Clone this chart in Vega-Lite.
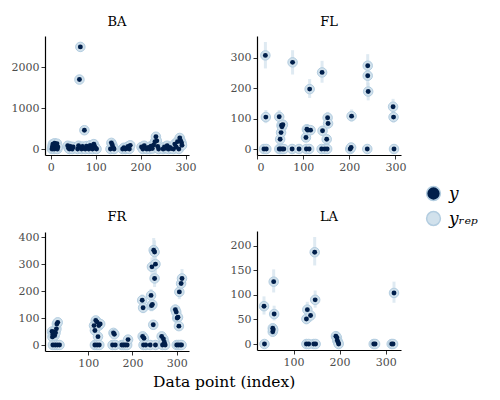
{
  "$schema": "https://vega.github.io/schema/vega-lite/v6.json",
  "background": "white",
  "padding": {"left": 11, "top": 16, "right": 5, "bottom": 5},
  "title": {"text": "Data point (index)", "orient": "bottom", "anchor": "start", "dx": 108, "frame": "group", "font": "DejaVu Serif", "fontSize": 15.5, "fontWeight": "normal", "color": "black", "offset": 7},
  "data": {"values": [
    {"g":"BA","x":3,"y":0,"lo":0,"hi":0},{"g":"BA","x":4,"y":60,"lo":50,"hi":72},{"g":"BA","x":5,"y":120,"lo":100,"hi":140},{"g":"BA","x":6,"y":20,"lo":15,"hi":25},{"g":"BA","x":7,"y":90,"lo":76,"hi":105},{"g":"BA","x":8,"y":0,"lo":0,"hi":0},{"g":"BA","x":9,"y":140,"lo":118,"hi":162},{"g":"BA","x":10,"y":40,"lo":33,"hi":48},{"g":"BA","x":11,"y":100,"lo":85,"hi":116},{"g":"BA","x":12,"y":10,"lo":7,"hi":13},{"g":"BA","x":13,"y":70,"lo":59,"hi":82},{"g":"BA","x":14,"y":130,"lo":110,"hi":150},{"g":"BA","x":15,"y":0,"lo":0,"hi":0},{"g":"BA","x":16,"y":50,"lo":42,"hi":58},
    {"g":"BA","x":38,"y":80,"lo":68,"hi":93},{"g":"BA","x":40,"y":20,"lo":15,"hi":25},{"g":"BA","x":42,"y":0,"lo":0,"hi":0},{"g":"BA","x":44,"y":60,"lo":50,"hi":70},{"g":"BA","x":46,"y":30,"lo":24,"hi":36},{"g":"BA","x":48,"y":0,"lo":0,"hi":0},{"g":"BA","x":50,"y":50,"lo":42,"hi":58},
    {"g":"BA","x":60,"y":0,"lo":0,"hi":0},{"g":"BA","x":62,"y":80,"lo":68,"hi":93},{"g":"BA","x":64,"y":1700,"lo":1600,"hi":1800},{"g":"BA","x":66,"y":2500,"lo":2380,"hi":2620},{"g":"BA","x":67,"y":40,"lo":33,"hi":48},{"g":"BA","x":69,"y":0,"lo":0,"hi":0},{"g":"BA","x":71,"y":60,"lo":50,"hi":70},{"g":"BA","x":73,"y":20,"lo":15,"hi":25},{"g":"BA","x":75,"y":460,"lo":420,"hi":500},{"g":"BA","x":77,"y":0,"lo":0,"hi":0},{"g":"BA","x":80,"y":70,"lo":59,"hi":82},{"g":"BA","x":83,"y":30,"lo":24,"hi":36},{"g":"BA","x":85,"y":0,"lo":0,"hi":0},{"g":"BA","x":88,"y":90,"lo":76,"hi":105},{"g":"BA","x":90,"y":40,"lo":33,"hi":48},{"g":"BA","x":93,"y":0,"lo":0,"hi":0},{"g":"BA","x":96,"y":120,"lo":100,"hi":140},{"g":"BA","x":98,"y":60,"lo":50,"hi":70},{"g":"BA","x":100,"y":20,"lo":15,"hi":25},{"g":"BA","x":102,"y":0,"lo":0,"hi":0},
    {"g":"BA","x":133,"y":0,"lo":0,"hi":0},{"g":"BA","x":135,"y":150,"lo":127,"hi":173},{"g":"BA","x":137,"y":100,"lo":85,"hi":116},{"g":"BA","x":139,"y":40,"lo":33,"hi":48},{"g":"BA","x":141,"y":0,"lo":0,"hi":0},
    {"g":"BA","x":160,"y":0,"lo":0,"hi":0},{"g":"BA","x":163,"y":30,"lo":24,"hi":36},{"g":"BA","x":166,"y":0,"lo":0,"hi":0},{"g":"BA","x":169,"y":10,"lo":7,"hi":13},{"g":"BA","x":172,"y":60,"lo":50,"hi":70},{"g":"BA","x":175,"y":0,"lo":0,"hi":0},{"g":"BA","x":177,"y":90,"lo":76,"hi":105},
    {"g":"BA","x":202,"y":50,"lo":42,"hi":58},{"g":"BA","x":205,"y":0,"lo":0,"hi":0},{"g":"BA","x":208,"y":80,"lo":68,"hi":93},{"g":"BA","x":211,"y":20,"lo":15,"hi":25},{"g":"BA","x":214,"y":0,"lo":0,"hi":0},{"g":"BA","x":217,"y":40,"lo":33,"hi":48},{"g":"BA","x":220,"y":0,"lo":0,"hi":0},{"g":"BA","x":223,"y":70,"lo":59,"hi":82},{"g":"BA","x":226,"y":10,"lo":7,"hi":13},{"g":"BA","x":229,"y":100,"lo":85,"hi":116},{"g":"BA","x":232,"y":180,"lo":155,"hi":208},{"g":"BA","x":234,"y":300,"lo":265,"hi":340},{"g":"BA","x":236,"y":200,"lo":172,"hi":230},{"g":"BA","x":238,"y":60,"lo":50,"hi":70},{"g":"BA","x":240,"y":0,"lo":0,"hi":0},
    {"g":"BA","x":250,"y":0,"lo":0,"hi":0},{"g":"BA","x":253,"y":50,"lo":42,"hi":58},{"g":"BA","x":256,"y":20,"lo":15,"hi":25},{"g":"BA","x":259,"y":80,"lo":68,"hi":93},{"g":"BA","x":262,"y":0,"lo":0,"hi":0},{"g":"BA","x":265,"y":40,"lo":33,"hi":48},{"g":"BA","x":268,"y":10,"lo":7,"hi":13},
    {"g":"BA","x":273,"y":0,"lo":0,"hi":0},{"g":"BA","x":276,"y":120,"lo":100,"hi":140},{"g":"BA","x":279,"y":50,"lo":42,"hi":58},{"g":"BA","x":282,"y":180,"lo":155,"hi":208},{"g":"BA","x":285,"y":0,"lo":0,"hi":0},{"g":"BA","x":287,"y":270,"lo":238,"hi":305},{"g":"BA","x":289,"y":200,"lo":172,"hi":230},{"g":"BA","x":291,"y":150,"lo":127,"hi":173},{"g":"BA","x":292,"y":90,"lo":76,"hi":105},

    {"g":"FL","x":15,"y":0,"lo":0,"hi":0},{"g":"FL","x":18,"y":308,"lo":265,"hi":352},{"g":"FL","x":19,"y":105,"lo":85,"hi":128},{"g":"FL","x":20,"y":0,"lo":0,"hi":0},
    {"g":"FL","x":48,"y":0,"lo":0,"hi":0},{"g":"FL","x":48,"y":106,"lo":88,"hi":128},{"g":"FL","x":50,"y":32,"lo":25,"hi":40},{"g":"FL","x":51,"y":0,"lo":0,"hi":0},{"g":"FL","x":52,"y":54,"lo":44,"hi":65},{"g":"FL","x":53,"y":78,"lo":64,"hi":93},{"g":"FL","x":54,"y":73,"lo":60,"hi":88},{"g":"FL","x":55,"y":0,"lo":0,"hi":0},{"g":"FL","x":56,"y":80,"lo":66,"hi":96},{"g":"FL","x":58,"y":0,"lo":0,"hi":0},
    {"g":"FL","x":76,"y":0,"lo":0,"hi":0},{"g":"FL","x":77,"y":285,"lo":245,"hi":325},{"g":"FL","x":91,"y":0,"lo":0,"hi":0},
    {"g":"FL","x":106,"y":38,"lo":30,"hi":46},{"g":"FL","x":107,"y":0,"lo":0,"hi":0},{"g":"FL","x":108,"y":65,"lo":53,"hi":78},{"g":"FL","x":110,"y":62,"lo":51,"hi":75},{"g":"FL","x":113,"y":0,"lo":0,"hi":0},{"g":"FL","x":114,"y":197,"lo":168,"hi":230},{"g":"FL","x":116,"y":62,"lo":51,"hi":75},
    {"g":"FL","x":140,"y":0,"lo":0,"hi":0},{"g":"FL","x":141,"y":252,"lo":218,"hi":290},{"g":"FL","x":142,"y":60,"lo":49,"hi":72},{"g":"FL","x":147,"y":0,"lo":0,"hi":0},{"g":"FL","x":151,"y":32,"lo":25,"hi":40},{"g":"FL","x":152,"y":0,"lo":0,"hi":0},{"g":"FL","x":153,"y":103,"lo":86,"hi":122},{"g":"FL","x":154,"y":84,"lo":70,"hi":100},
    {"g":"FL","x":202,"y":0,"lo":0,"hi":0},{"g":"FL","x":204,"y":5,"lo":2,"hi":9},{"g":"FL","x":205,"y":108,"lo":90,"hi":130},
    {"g":"FL","x":239,"y":0,"lo":0,"hi":0},{"g":"FL","x":240,"y":274,"lo":238,"hi":312},{"g":"FL","x":240,"y":241,"lo":208,"hi":276},{"g":"FL","x":241,"y":189,"lo":160,"hi":218},
    {"g":"FL","x":295,"y":139,"lo":116,"hi":165},{"g":"FL","x":296,"y":105,"lo":87,"hi":126},{"g":"FL","x":297,"y":0,"lo":0,"hi":0},

    {"g":"FR","x":18,"y":50,"lo":41,"hi":60},{"g":"FR","x":19,"y":30,"lo":24,"hi":37},{"g":"FR","x":20,"y":40,"lo":33,"hi":48},{"g":"FR","x":22,"y":48,"lo":39,"hi":57},{"g":"FR","x":24,"y":35,"lo":28,"hi":42},{"g":"FR","x":26,"y":45,"lo":37,"hi":54},{"g":"FR","x":28,"y":60,"lo":49,"hi":71},{"g":"FR","x":29,"y":78,"lo":64,"hi":93},{"g":"FR","x":31,"y":84,"lo":69,"hi":100},{"g":"FR","x":20,"y":0,"lo":0,"hi":0},{"g":"FR","x":25,"y":0,"lo":0,"hi":0},{"g":"FR","x":30,"y":0,"lo":0,"hi":0},{"g":"FR","x":35,"y":0,"lo":0,"hi":0},
    {"g":"FR","x":113,"y":72,"lo":59,"hi":86},{"g":"FR","x":115,"y":54,"lo":44,"hi":65},{"g":"FR","x":117,"y":91,"lo":75,"hi":108},{"g":"FR","x":120,"y":85,"lo":70,"hi":101},{"g":"FR","x":122,"y":31,"lo":25,"hi":38},{"g":"FR","x":124,"y":72,"lo":59,"hi":86},{"g":"FR","x":127,"y":78,"lo":64,"hi":93},{"g":"FR","x":115,"y":0,"lo":0,"hi":0},{"g":"FR","x":120,"y":0,"lo":0,"hi":0},{"g":"FR","x":125,"y":0,"lo":0,"hi":0},
    {"g":"FR","x":155,"y":0,"lo":0,"hi":0},{"g":"FR","x":157,"y":45,"lo":37,"hi":54},{"g":"FR","x":159,"y":40,"lo":33,"hi":48},{"g":"FR","x":161,"y":0,"lo":0,"hi":0},
    {"g":"FR","x":176,"y":0,"lo":0,"hi":0},{"g":"FR","x":180,"y":0,"lo":0,"hi":0},{"g":"FR","x":184,"y":0,"lo":0,"hi":0},{"g":"FR","x":188,"y":0,"lo":0,"hi":0},{"g":"FR","x":190,"y":20,"lo":15,"hi":25},
    {"g":"FR","x":222,"y":166,"lo":143,"hi":188},{"g":"FR","x":224,"y":138,"lo":118,"hi":158},{"g":"FR","x":223,"y":32,"lo":25,"hi":40},{"g":"FR","x":226,"y":25,"lo":20,"hi":31},{"g":"FR","x":225,"y":0,"lo":0,"hi":0},{"g":"FR","x":230,"y":0,"lo":0,"hi":0},
    {"g":"FR","x":240,"y":0,"lo":0,"hi":0},{"g":"FR","x":242,"y":184,"lo":158,"hi":208},{"g":"FR","x":243,"y":146,"lo":125,"hi":167},{"g":"FR","x":245,"y":150,"lo":129,"hi":172},{"g":"FR","x":244,"y":290,"lo":255,"hi":325},{"g":"FR","x":248,"y":352,"lo":310,"hi":397},{"g":"FR","x":250,"y":345,"lo":303,"hi":388},{"g":"FR","x":252,"y":300,"lo":264,"hi":336},{"g":"FR","x":250,"y":247,"lo":215,"hi":280},{"g":"FR","x":247,"y":75,"lo":62,"hi":89},{"g":"FR","x":252,"y":0,"lo":0,"hi":0},
    {"g":"FR","x":266,"y":32,"lo":25,"hi":40},{"g":"FR","x":268,"y":0,"lo":0,"hi":0},{"g":"FR","x":270,"y":22,"lo":17,"hi":27},{"g":"FR","x":272,"y":10,"lo":7,"hi":13},{"g":"FR","x":274,"y":0,"lo":0,"hi":0},
    {"g":"FR","x":297,"y":131,"lo":112,"hi":151},{"g":"FR","x":299,"y":122,"lo":104,"hi":141},{"g":"FR","x":301,"y":100,"lo":84,"hi":117},{"g":"FR","x":303,"y":103,"lo":87,"hi":120},{"g":"FR","x":305,"y":70,"lo":58,"hi":83},{"g":"FR","x":306,"y":197,"lo":170,"hi":224},{"g":"FR","x":310,"y":228,"lo":198,"hi":259},{"g":"FR","x":312,"y":247,"lo":215,"hi":282},{"g":"FR","x":300,"y":0,"lo":0,"hi":0},{"g":"FR","x":304,"y":0,"lo":0,"hi":0},{"g":"FR","x":308,"y":0,"lo":0,"hi":0},{"g":"FR","x":311,"y":0,"lo":0,"hi":0},

    {"g":"LA","x":36,"y":77,"lo":60,"hi":97},{"g":"LA","x":37,"y":0,"lo":0,"hi":0},{"g":"LA","x":55,"y":32,"lo":25,"hi":40},{"g":"LA","x":55,"y":25,"lo":19,"hi":31},{"g":"LA","x":56,"y":29,"lo":23,"hi":36},{"g":"LA","x":57,"y":127,"lo":105,"hi":152},{"g":"LA","x":58,"y":61,"lo":48,"hi":78},
    {"g":"LA","x":128,"y":51,"lo":40,"hi":63},{"g":"LA","x":128,"y":0,"lo":0,"hi":0},{"g":"LA","x":130,"y":70,"lo":56,"hi":86},{"g":"LA","x":133,"y":0,"lo":0,"hi":0},{"g":"LA","x":137,"y":58,"lo":46,"hi":71},{"g":"LA","x":144,"y":0,"lo":0,"hi":0},{"g":"LA","x":146,"y":187,"lo":160,"hi":218},{"g":"LA","x":147,"y":90,"lo":74,"hi":109},{"g":"LA","x":148,"y":0,"lo":0,"hi":0},
    {"g":"LA","x":192,"y":16,"lo":12,"hi":21},{"g":"LA","x":194,"y":13,"lo":9,"hi":17},{"g":"LA","x":195,"y":7,"lo":4,"hi":10},{"g":"LA","x":197,"y":3,"lo":1,"hi":5},{"g":"LA","x":198,"y":0,"lo":0,"hi":0},
    {"g":"LA","x":274,"y":0,"lo":0,"hi":0},{"g":"LA","x":277,"y":0,"lo":0,"hi":0},{"g":"LA","x":313,"y":0,"lo":0,"hi":0},{"g":"LA","x":316,"y":0,"lo":0,"hi":0},{"g":"LA","x":318,"y":104,"lo":84,"hi":127}
  ]},
  "facet": {"field": "g", "type": "nominal", "header": {"title": null, "labelFont": "DejaVu Serif", "labelFontSize": 13, "labelColor": "black", "labelPadding": 7}},
  "columns": 2,
  "spacing": {"row": 39, "column": 33},
  "resolve": {"scale": {"x": "independent", "y": "independent"}, "axis": {"x": "independent", "y": "independent"}},
  "spec": {
    "width": 144,
    "height": 119,
    "encoding": {
      "x": {"field": "x", "type": "quantitative", "scale": {"zero": false, "nice": false, "padding": 7}, "axis": {"title": null, "format": "d"}},
      "y": {"field": "y", "type": "quantitative", "scale": {"zero": false, "nice": false, "padding": 6}, "axis": {"title": null, "format": "d"}}
    },
    "layer": [
      {"mark": {"type": "rule", "color": "#d1e1ec", "strokeWidth": 3, "opacity": 0.7},
       "encoding": {"y": {"field": "lo", "type": "quantitative"}, "y2": {"field": "hi"}}},
      {"mark": {"type": "point", "shape": "circle", "filled": true, "size": 90, "opacity": 1, "stroke": "#b3cde0", "strokeWidth": 1},
       "encoding": {"color": {"datum": "y_rep", "type": "nominal", "scale": {"domain": ["y", "y_rep"], "range": ["#011f4b", "#d1e1ec"]},
         "legend": {"title": null, "orient": "none", "legendX": 380, "legendY": 149, "labelFont": "DejaVu Serif", "labelFontSize": 17, "labelFontStyle": "italic", "labelColor": "black", "symbolSize": 190, "symbolType": "circle", "rowPadding": 4, "labelOffset": 7, "labelExpr": "datum.value == 'y' ? 'y' : 'yᵣₑₚ'"}}}},
      {"mark": {"type": "point", "shape": "circle", "filled": true, "size": 24, "opacity": 1},
       "encoding": {"color": {"datum": "y", "type": "nominal"}}}
    ]
  },
  "config": {
    "view": {"stroke": null},
    "axis": {"grid": false, "domainColor": "black", "domainWidth": 1.2, "tickColor": "#333333", "tickSize": 4, "labelFont": "DejaVu Serif", "labelFontSize": 11, "labelColor": "#4d4d4d", "tickCount": 4, "labelPadding": 2}
  }
}
